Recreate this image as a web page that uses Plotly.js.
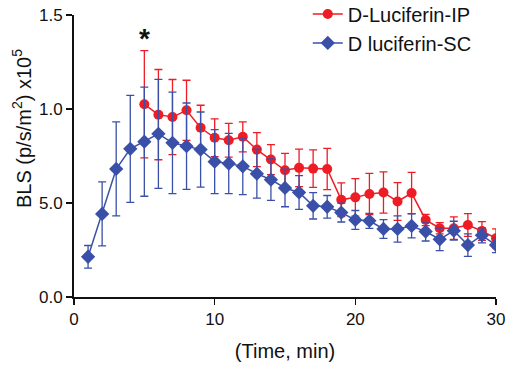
<!DOCTYPE html>
<html>
<head>
<meta charset="utf-8">
<script src="https://cdn.plot.ly/plotly-3.0.1.min.js"></script>
<style>html,body{margin:0;padding:0;background:#fff;}#chart{width:518px;height:375px;}</style>
</head>
<body>
<div id="chart"></div>
<script>
const timeSC = [1,2,3,4,5,6,7,8,9,10,11,12,13,14,15,16,17,18,19,20,21,22,23,24,25,26,27,28,29,30];
const valSC = [0.214,0.442,0.681,0.788,0.826,0.868,0.820,0.802,0.784,0.720,0.710,0.695,0.656,0.624,0.580,0.556,0.485,0.480,0.449,0.410,0.405,0.362,0.362,0.378,0.348,0.307,0.353,0.276,0.328,0.276];
const errSC = [0.06,0.17,0.25,0.285,0.29,0.29,0.27,0.23,0.20,0.17,0.16,0.15,0.13,0.11,0.10,0.09,0.07,0.06,0.05,0.05,0.04,0.05,0.07,0.064,0.05,0.06,0.05,0.06,0.04,0.04];
const timeIP = [5,6,7,8,9,10,11,12,13,14,15,16,17,18,19,20,21,22,23,24,25,26,27,28,29,30];
const valIP = [1.025,0.970,0.957,0.993,0.900,0.847,0.834,0.852,0.784,0.731,0.674,0.687,0.683,0.681,0.517,0.530,0.548,0.556,0.508,0.553,0.410,0.366,0.366,0.383,0.351,0.312];
const errIP = [0.285,0.24,0.20,0.16,0.12,0.10,0.09,0.08,0.09,0.08,0.09,0.10,0.10,0.11,0.09,0.10,0.11,0.11,0.10,0.11,0.03,0.03,0.06,0.06,0.05,0.05];
const yTickVals = [0, 0.5, 1.0, 1.5];
const yTickText = ["0.0", "5.0", "1.0", "1.5"];
const xTickVals = [0, 10, 20, 30];

const red = '#ee1c25';
const blue = '#3a50a8';
const ink = '#111';

const traces = [
  {
    x: timeIP, y: valIP, name: 'D-Luciferin-IP', type: 'scatter', mode: 'lines+markers',
    line: {color: red, width: 1.5},
    marker: {color: red, size: 10, symbol: 'circle'},
    error_y: {type: 'data', array: errIP, visible: true, color: red, thickness: 1.3, width: 4}
  },
  {
    x: timeSC, y: valSC, name: 'D luciferin-SC', type: 'scatter', mode: 'lines+markers',
    line: {color: blue, width: 1.5},
    marker: {color: blue, size: 11, symbol: 'diamond'},
    error_y: {type: 'data', array: errSC, visible: true, color: blue, thickness: 1.3, width: 4}
  }
];

const layout = {
  width: 518, height: 375,
  margin: {l: 74, r: 22, t: 15, b: 78, autoexpand: false},
  paper_bgcolor: '#fff', plot_bgcolor: '#fff',
  font: {family: 'Liberation Sans, Arial, sans-serif', color: ink, size: 17},
  showlegend: true,
  legend: {x: 0.554, y: 1.073, xanchor: 'left', yanchor: 'top',
           font: {size: 20, color: ink}, bgcolor: 'rgba(0,0,0,0)'},
  xaxis: {
    range: [0, 30], tickvals: xTickVals, ticks: 'outside', ticklen: 6, tickwidth: 1.5, tickcolor: ink,
    showline: true, linecolor: ink, linewidth: 2, showgrid: false, zeroline: false,
    tickfont: {size: 17},
    title: {text: '(Time, min)', font: {size: 20}, standoff: 16}
  },
  yaxis: {
    range: [0, 1.5], tickvals: yTickVals, ticktext: yTickText, ticks: 'outside', ticklen: 6, tickwidth: 1.5, tickcolor: ink,
    showline: true, linecolor: ink, linewidth: 2, showgrid: false, zeroline: false,
    tickfont: {size: 17}
  },
  annotations: [
    {x: 5, y: 1.375, xref: 'x', yref: 'y', text: '<b>*</b>', showarrow: false, font: {size: 28, color: ink}},
    {x: -0.123, y: 0.596, xref: 'paper', yref: 'paper', xanchor: 'center', yanchor: 'middle', textangle: -90,
     text: 'BLS (p/s/m<sup>2</sup>) x10<sup>5</sup>', showarrow: false, font: {size: 20, color: ink}}
  ]
};

Plotly.newPlot('chart', traces, layout, {displayModeBar: false, staticPlot: true});
</script>
</body>
</html>
